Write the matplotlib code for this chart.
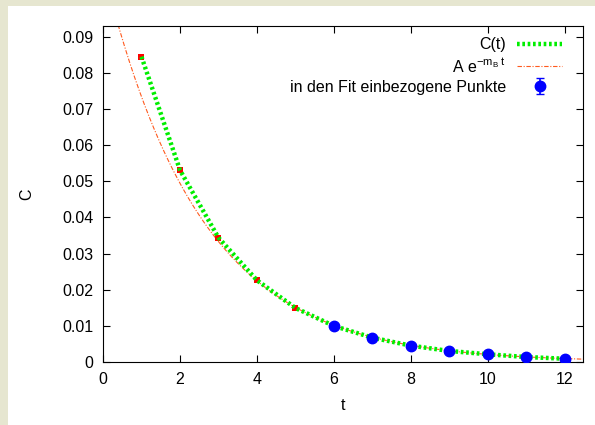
import matplotlib.pyplot as plt
import numpy as np
from matplotlib.ticker import FuncFormatter

plt.rcParams['font.family'] = ['Liberation Sans', 'DejaVu Sans']
plt.rcParams['mathtext.fontset'] = 'custom'
plt.rcParams['mathtext.rm'] = 'Liberation Sans'
plt.rcParams['mathtext.it'] = 'Liberation Sans'

# Messwerte C(t)
t_alle = [1, 2, 3, 4, 5, 6, 7, 8, 9, 10, 11, 12]
C_alle = [0.0845, 0.0531, 0.0344, 0.0226, 0.01495, 0.00997, 0.00673,
          0.00452, 0.00305, 0.00213, 0.00138, 0.0009]

# Punkte ausserhalb / innerhalb des Fits
t_rot = [1, 2, 3, 4, 5]
C_rot = [0.0845, 0.0531, 0.0344, 0.0226, 0.01495]
t_fit = [6, 7, 8, 9, 10, 11, 12]
C_fit = [0.00997, 0.00673, 0.00452, 0.00305, 0.00213, 0.00138, 0.0009]
C_err = [0.0003, 0.00025, 0.0002, 0.00018, 0.00015, 0.00012, 0.0001]

# Fitparameter A e^{-m_B t}
A = 0.109
mB = 0.395

fs = 11.5

fig = plt.figure(figsize=(5.95, 4.25), dpi=100)
fig.patch.set_facecolor('#e6e6d0')
fig.patches.append(plt.Rectangle((8/595, 0), 1, 1 - 6/425, transform=fig.transFigure,
                                 facecolor='white', edgecolor='none', zorder=-10))
ax = fig.add_axes([103/595, 1 - 362/425, 480/595, 336/425])

tt = np.linspace(0, 12.5, 400)
ax.plot(tt, A*np.exp(-mB*tt), color='#ff5a1e', lw=0.8, ls=(0, (4, 1.5, 1, 1.5)),
        label=r'A e$^{-\mathrm{m_B}\ t}$', zorder=2)
ax.plot(t_rot, C_rot, 's', color='red', ms=5, mew=0, zorder=3)
ax.plot(t_alle, C_alle, color='#00ee00', lw=3.2, ls=(0, (0.6, 0.6)), label='C(t)', zorder=4)
ax.errorbar(t_fit, C_fit, yerr=C_err, fmt='o', color='blue', ms=7.5, lw=1.2, capsize=3,
            label='in den Fit einbezogene Punkte', zorder=5)

ax.set_xlim(0, 12.47)
ax.set_ylim(0, 0.093)
ax.set_xticks(np.arange(0, 13, 2))
ax.set_yticks(np.arange(0, 0.091, 0.01))
ax.yaxis.set_major_formatter(FuncFormatter(lambda v, p: '0' if v == 0 else '%.2f' % v))
ax.tick_params(direction='in', top=True, right=True, length=5, labelsize=fs, pad=7)
ax.set_xlabel('t', fontsize=fs, labelpad=8)
ax.set_ylabel('C', fontsize=fs, labelpad=20)

h, l = ax.get_legend_handles_labels()
ax.legend([h[1], h[0], h[2]], [l[1], l[0], l[2]], loc='upper right',
          bbox_to_anchor=(0.98, 1.0), frameon=False,
          markerfirst=False, fontsize=fs, handlelength=2.8, handletextpad=0.7,
          borderaxespad=0.3, labelspacing=0.3)

fig.savefig('out.png', dpi=100, facecolor=fig.get_facecolor())
